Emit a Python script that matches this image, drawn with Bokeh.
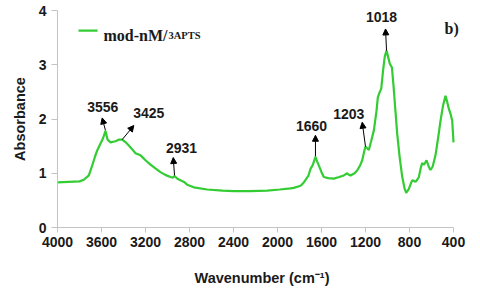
from bokeh.plotting import figure
from bokeh.models import Range1d, FixedTicker, Arrow, NormalHead, Label, ColumnDataSource, InlineStyleSheet
from bokeh.embed import file_html
from bokeh.resources import INLINE

# ---- data ----
wavenumber = [4000, 3900, 3800, 3761, 3715, 3685, 3660, 3639, 3609, 3585, 3564, 3545, 3518, 3473,
              3440, 3412, 3380, 3352, 3320, 3291, 3245, 3200, 3155, 3110, 3064, 3020, 2973, 2950,
              2936, 2910, 2882, 2850, 2821, 2761, 2639, 2500, 2397, 2250, 2094, 1980, 1882, 1852,
              1790, 1761, 1720, 1700, 1680, 1655, 1640, 1624, 1600, 1579, 1540, 1488, 1440, 1397,
              1367, 1350, 1336, 1300, 1276, 1250, 1230, 1210, 1200, 1185, 1170, 1150, 1124, 1100,
              1088, 1070, 1057, 1040, 1025, 1009, 995, 979, 960, 945, 930, 912, 890, 866, 845,
              830, 806, 790, 776, 760, 746, 730, 715, 700, 685, 672, 664, 645, 625, 609, 590,
              564, 540, 518, 495, 473, 458, 443, 425, 412, 400]
absorbance = [0.83, 0.84, 0.85, 0.88, 0.96, 1.14, 1.30, 1.42, 1.55, 1.65, 1.78, 1.62, 1.57, 1.59,
              1.62, 1.62, 1.57, 1.51, 1.44, 1.37, 1.33, 1.24, 1.16, 1.09, 1.02, 0.97, 0.93, 0.92,
              0.95, 0.90, 0.87, 0.84, 0.79, 0.74, 0.70, 0.68, 0.67, 0.67, 0.68, 0.70, 0.72, 0.73,
              0.77, 0.83, 0.95, 1.08, 1.15, 1.30, 1.22, 1.14, 1.02, 0.93, 0.91, 0.90, 0.93, 0.96,
              1.00, 0.97, 0.96, 1.00, 1.05, 1.14, 1.24, 1.42, 1.49, 1.46, 1.43, 1.58, 1.79, 2.15,
              2.40, 2.50, 2.56, 2.90, 3.15, 3.26, 3.15, 3.02, 2.95, 2.60, 2.20, 1.73, 1.30, 0.93, 0.72,
              0.64, 0.71, 0.80, 0.87, 0.86, 0.84, 0.88, 0.93, 1.08, 1.19, 1.16, 1.17, 1.24, 1.12, 1.06, 1.12,
              1.33, 1.65, 1.97, 2.25, 2.43, 2.32, 2.19, 2.08, 1.97, 1.57]

x_ticks = [4000, 3600, 3200, 2800, 2400, 2000, 1600, 1200, 800, 400]
y_ticks = [0, 1, 2, 3, 4]

series_name = "mod-nM/"
series_sub = "3APTS"
panel_tag = "b)"

# peak annotations
peak_labels = ["3556", "3425", "2931", "1660", "1203", "1018"]
arrow_x0 = [3564, 3412, 2936, 1655, 1200, 1009]
arrow_y0 = [1.79, 1.62, 0.96, 1.31, 1.49, 3.26]
arrow_x1 = [3594, 3306, 2948, 1655, 1230, 1018]
arrow_y1 = [2.02, 1.88, 1.29, 1.70, 1.94, 3.66]
label_x = [3588, 3170, 2873, 1691, 1352, 1055]
label_y = [2.22, 2.11, 1.46, 1.88, 2.10, 3.88]

GREEN = "#33cc33"

p = figure(width=480, height=300, output_backend="svg", toolbar_location=None,
           x_range=Range1d(4000, 282), y_range=Range1d(0, 4),
           min_border_left=57, min_border_right=14, min_border_top=10, min_border_bottom=73)
p.outline_line_color = None
p.xgrid.grid_line_color = None
p.ygrid.grid_line_color = None
p.background_fill_color = "white"
p.border_fill_color = "white"
p.stylesheets = [InlineStyleSheet(css=":host { outline: 1px solid #d6d6d6; outline-offset: -4px; }")]

for ax in (p.xaxis[0], p.yaxis[0]):
    ax.axis_line_color = "#c4c4c4"
    ax.major_tick_line_color = "#c4c4c4"
    ax.minor_tick_line_color = None
    ax.major_tick_in = 0
    ax.major_label_text_font = "Liberation Sans"
    ax.major_label_text_font_style = "bold"
    ax.major_label_text_font_size = "14px"
    ax.major_label_text_color = "#1a1a1a"
    ax.axis_label_text_font = "Liberation Sans"
    ax.axis_label_text_font_style = "bold"
    ax.axis_label_text_font_size = "14.5px"
    ax.axis_label_text_color = "#1a1a1a"

p.xaxis[0].ticker = FixedTicker(ticks=x_ticks)
p.yaxis[0].ticker = FixedTicker(ticks=y_ticks)
p.xaxis[0].bounds = (4000, 400)
p.yaxis[0].bounds = (0, 4)
p.xaxis[0].major_tick_out = 5
p.yaxis[0].major_tick_out = 6
p.xaxis[0].major_label_standoff = 4
p.yaxis[0].major_label_standoff = 5
p.xaxis[0].axis_label = "Wavenumber (cm\u207b\u00b9)"
p.yaxis[0].axis_label = "Absorbance"
p.xaxis[0].axis_label_standoff = 20
p.yaxis[0].axis_label_standoff = 8

src = ColumnDataSource(dict(x=wavenumber, y=absorbance))
p.line("x", "y", source=src, line_color=GREEN, line_width=2.2)

# arrows
for i in range(len(peak_labels)):
    p.add_layout(Arrow(end=NormalHead(size=6, fill_color="black", line_color="black"),
                       x_start=arrow_x0[i], y_start=arrow_y0[i],
                       x_end=arrow_x1[i], y_end=arrow_y1[i],
                       line_color="black", line_width=1))
    p.add_layout(Label(x=label_x[i], y=label_y[i], text=peak_labels[i],
                       text_align="center", text_baseline="middle",
                       text_font="Liberation Sans", text_font_style="bold",
                       text_font_size="14px", text_color="#1a1a1a"))

# legend
p.line([3809, 3636], [3.63, 3.63], line_color=GREEN, line_width=2.2)
p.add_layout(Label(x=3582, y=3.54, text=series_name, text_baseline="alphabetic",
                   text_font="Liberation Serif", text_font_style="bold",
                   text_font_size="16px", text_color="#1a1a1a"))
p.add_layout(Label(x=2991, y=3.54, text=series_sub, text_baseline="alphabetic",
                   text_font="Liberation Serif", text_font_style="bold",
                   text_font_size="10.5px", text_color="#1a1a1a"))
p.add_layout(Label(x=482, y=3.67, text=panel_tag, text_baseline="middle",
                   text_font="Liberation Serif", text_font_style="bold",
                   text_font_size="16px", text_color="#1a1a1a"))

open("out.html", "w").write(file_html(p, INLINE))
